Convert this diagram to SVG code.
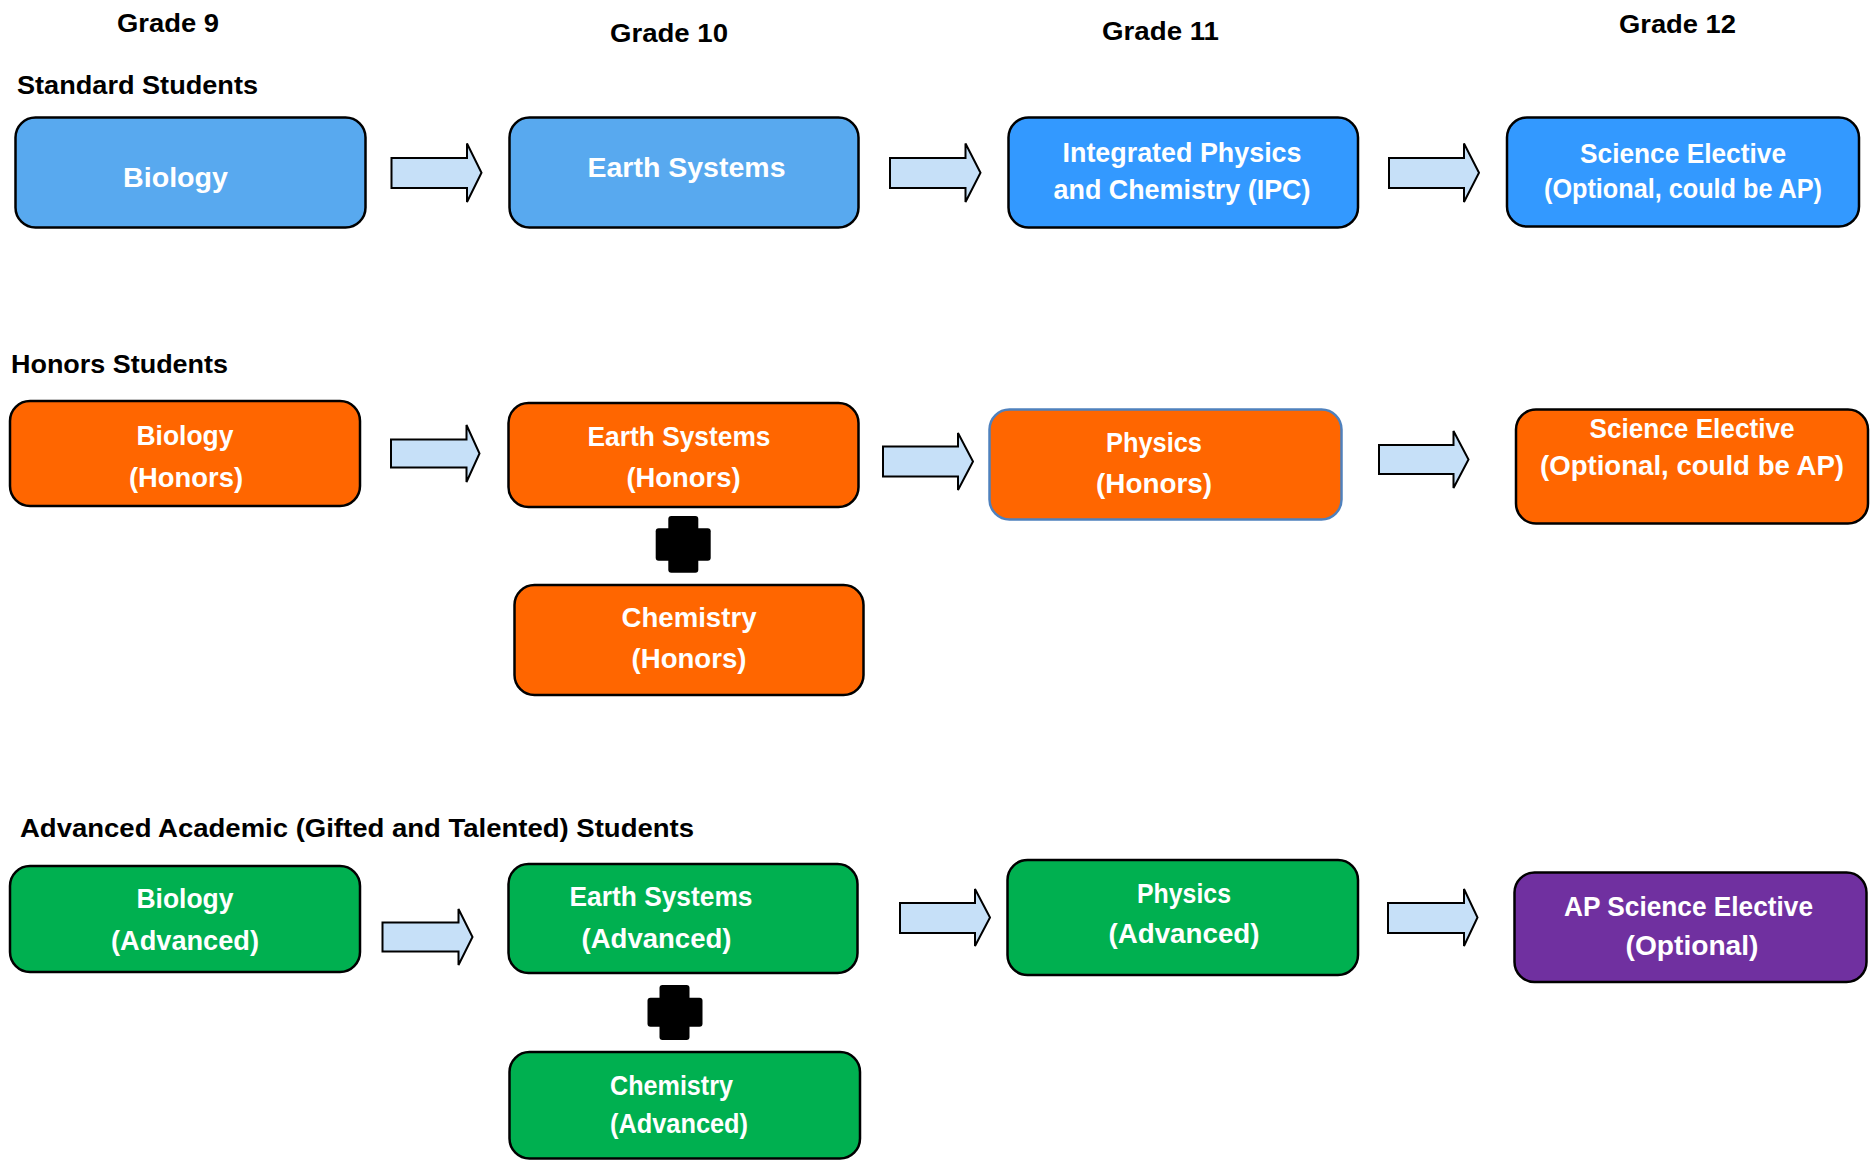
<svg xmlns="http://www.w3.org/2000/svg" width="1876" height="1161" viewBox="0 0 1876 1161">
<style>
.bg{fill:#ffffff}
.hdr{font-family:"Liberation Sans",Arial,sans-serif;font-weight:bold;font-size:25.5px;fill:#000000}
.box{stroke:#000000;stroke-width:2.5}
.lb{fill:#58A9EF}
.db{fill:#3399FF}
.or{fill:#FF6600}
.gr{fill:#00B050}
.pu{fill:#7030A0}
.bl{stroke:#4F81BD}
.t{font-family:"Liberation Sans",Arial,sans-serif;font-weight:bold;font-size:28px;fill:#ffffff;text-anchor:middle}
.arr{fill:#C6E0F8;stroke:#000000;stroke-width:2;stroke-linejoin:miter}
.plus{fill:#000000}
</style>
<rect class="bg" x="0" y="0" width="1876" height="1161"/>

<g id="headers">
<text class="hdr" x="117" y="31.5" textLength="102" lengthAdjust="spacingAndGlyphs">Grade 9</text>
<text class="hdr" x="610" y="41.5" textLength="118" lengthAdjust="spacingAndGlyphs">Grade 10</text>
<text class="hdr" x="1102" y="40" textLength="117" lengthAdjust="spacingAndGlyphs">Grade 11</text>
<text class="hdr" x="1619" y="33" textLength="117" lengthAdjust="spacingAndGlyphs">Grade 12</text>
<text class="hdr" x="17" y="93.5" textLength="241" lengthAdjust="spacingAndGlyphs">Standard Students</text>
<text class="hdr" x="11" y="373" textLength="217" lengthAdjust="spacingAndGlyphs">Honors Students</text>
<text class="hdr" x="20" y="836.5" textLength="674" lengthAdjust="spacingAndGlyphs">Advanced Academic (Gifted and Talented) Students</text>
</g>

<g id="connectors">
<path class="arr" d="M391.5,158 L467,158 L467,143.5 L481.5,172.7 L467,202 L467,188 L391.5,188 Z"/>
<path class="arr" d="M890,158 L965.5,158 L965.5,143.5 L980.5,172.7 L965.5,202 L965.5,188 L890,188 Z"/>
<path class="arr" d="M1389,158 L1464,158 L1464,143.5 L1479,172.7 L1464,202 L1464,188 L1389,188 Z"/>

<path class="arr" d="M391,439.5 L466.5,439.5 L466.5,425 L479.5,453.5 L466.5,482 L466.5,467.5 L391,467.5 Z"/>
<path class="arr" d="M883,446.5 L958,446.5 L958,433 L973,461.5 L958,490 L958,476.5 L883,476.5 Z"/>
<path class="arr" d="M1379,445 L1453.5,445 L1453.5,431 L1468.5,459.5 L1453.5,488 L1453.5,474 L1379,474 Z"/>

<path class="arr" d="M382.5,922.5 L458.5,922.5 L458.5,909 L472.5,937 L458.5,965 L458.5,951.5 L382.5,951.5 Z"/>
<path class="arr" d="M900,903 L975,903 L975,889 L990,917.5 L975,946 L975,933 L900,933 Z"/>
<path class="arr" d="M1388,903 L1464,903 L1464,889 L1477.5,917.5 L1464,946 L1464,933 L1388,933 Z"/>
</g>

<g id="std-biology">
<rect class="box lb" x="15.5" y="117.5" width="350" height="110" rx="20"/>
<text class="t" x="175.5" y="186.5" font-size="30" textLength="105" lengthAdjust="spacingAndGlyphs">Biology</text>
</g>
<g id="std-earth">
<rect class="box lb" x="509.5" y="117.5" width="349" height="110" rx="20"/>
<text class="t" x="686.5" y="176.7" font-size="29" textLength="198" lengthAdjust="spacingAndGlyphs">Earth Systems</text>
</g>
<g id="std-ipc">
<rect class="box db" x="1008.5" y="117.5" width="349.5" height="110" rx="20"/>
<text class="t" x="1182" y="162" textLength="239" lengthAdjust="spacingAndGlyphs">Integrated Physics</text>
<text class="t" x="1182" y="199" textLength="257" lengthAdjust="spacingAndGlyphs">and Chemistry (IPC)</text>
</g>
<g id="std-elective">
<rect class="box db" x="1507" y="117.5" width="352" height="109" rx="20"/>
<text class="t" x="1683" y="163.3" font-size="26.5" textLength="206" lengthAdjust="spacingAndGlyphs">Science Elective</text>
<text class="t" x="1683" y="197.5" font-size="26.5" textLength="278" lengthAdjust="spacingAndGlyphs">(Optional, could be AP)</text>
</g>

<g id="hon-biology">
<rect class="box or" x="10" y="401" width="350" height="105" rx="20"/>
<text class="t" x="185" y="445" textLength="97" lengthAdjust="spacingAndGlyphs">Biology</text>
<text class="t" x="186" y="486.5" textLength="114" lengthAdjust="spacingAndGlyphs">(Honors)</text>
</g>
<g id="hon-earth">
<rect class="box or" x="508.5" y="403" width="350" height="104" rx="20"/>
<text class="t" x="679" y="446" textLength="183" lengthAdjust="spacingAndGlyphs">Earth Systems</text>
<text class="t" x="683.5" y="486.5" textLength="114" lengthAdjust="spacingAndGlyphs">(Honors)</text>
</g>
<g id="hon-plus">
<rect class="plus" x="668.3" y="516" width="30" height="56.7" rx="3"/>
<rect class="plus" x="655.7" y="528.3" width="55" height="32.4" rx="3"/>
</g>
<g id="hon-chemistry">
<rect class="box or" x="514.5" y="585" width="349" height="110" rx="20"/>
<text class="t" x="689" y="627" textLength="135" lengthAdjust="spacingAndGlyphs">Chemistry</text>
<text class="t" x="689" y="668" textLength="115" lengthAdjust="spacingAndGlyphs">(Honors)</text>
</g>
<g id="hon-physics">
<rect class="box or bl" x="989.5" y="409.5" width="352" height="110" rx="20"/>
<text class="t" x="1154" y="452" textLength="96" lengthAdjust="spacingAndGlyphs">Physics</text>
<text class="t" x="1154" y="493" textLength="116" lengthAdjust="spacingAndGlyphs">(Honors)</text>
</g>
<g id="hon-elective">
<rect class="box or" x="1516" y="409.5" width="352" height="114" rx="20"/>
<text class="t" x="1692" y="438" textLength="205" lengthAdjust="spacingAndGlyphs">Science Elective</text>
<text class="t" x="1692" y="475" textLength="304" lengthAdjust="spacingAndGlyphs">(Optional, could be AP)</text>
</g>

<g id="adv-biology">
<rect class="box gr" x="10" y="866" width="350" height="106" rx="20"/>
<text class="t" x="185" y="908" textLength="97" lengthAdjust="spacingAndGlyphs">Biology</text>
<text class="t" x="185" y="950" textLength="148" lengthAdjust="spacingAndGlyphs">(Advanced)</text>
</g>
<g id="adv-earth">
<rect class="box gr" x="508.5" y="864" width="349" height="109" rx="20"/>
<text class="t" x="661" y="906" textLength="183" lengthAdjust="spacingAndGlyphs">Earth Systems</text>
<text class="t" x="656.5" y="948" textLength="150" lengthAdjust="spacingAndGlyphs">(Advanced)</text>
</g>
<g id="adv-plus">
<rect class="plus" x="659.5" y="985" width="30" height="55" rx="3"/>
<rect class="plus" x="647.5" y="997.7" width="55" height="29" rx="3"/>
</g>
<g id="adv-chemistry">
<rect class="box gr" x="509.5" y="1052" width="350.5" height="106.5" rx="20"/>
<text class="t" x="671.5" y="1095" font-size="26" textLength="123" lengthAdjust="spacingAndGlyphs">Chemistry</text>
<text class="t" x="679" y="1133" font-size="26" textLength="138" lengthAdjust="spacingAndGlyphs">(Advanced)</text>
</g>
<g id="adv-physics">
<rect class="box gr" x="1007.5" y="860" width="350.5" height="115" rx="20"/>
<text class="t" x="1184" y="903" textLength="94" lengthAdjust="spacingAndGlyphs">Physics</text>
<text class="t" x="1184" y="943" textLength="151" lengthAdjust="spacingAndGlyphs">(Advanced)</text>
</g>
<g id="adv-elective">
<rect class="box pu" x="1514.5" y="872.5" width="352" height="109.5" rx="20"/>
<text class="t" x="1688.5" y="916" textLength="249" lengthAdjust="spacingAndGlyphs">AP Science Elective</text>
<text class="t" x="1692" y="955" textLength="133" lengthAdjust="spacingAndGlyphs">(Optional)</text>
</g>
</svg>
